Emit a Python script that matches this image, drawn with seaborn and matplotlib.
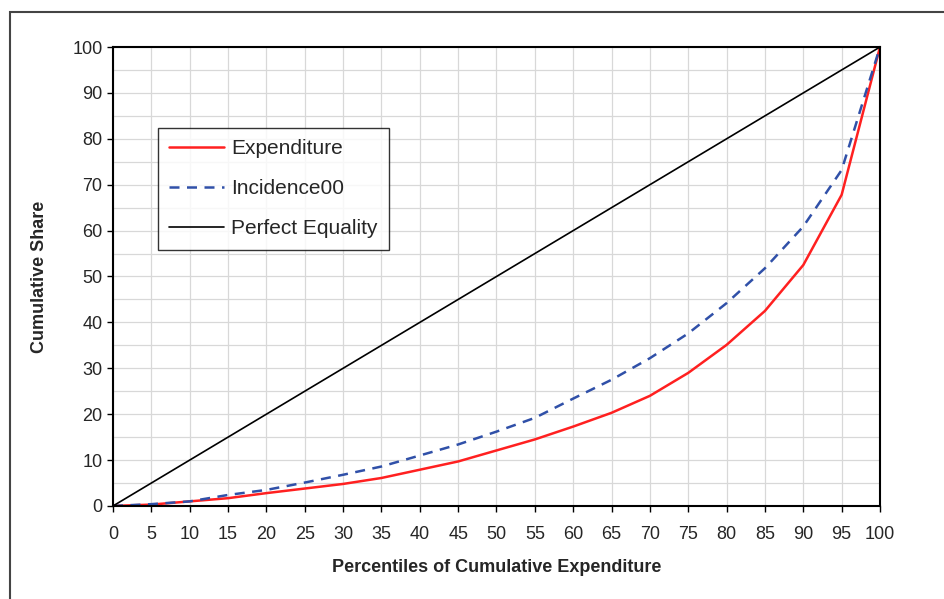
import numpy as np
import pandas as pd
import seaborn as sns
import matplotlib.pyplot as plt
from matplotlib.patches import Rectangle
from matplotlib.ticker import MultipleLocator

pct = [0, 5, 10, 15, 20, 25, 30, 35, 40, 45, 50, 55, 60, 65, 70, 75, 80, 85, 90, 95, 100]
expenditure = [0, 0.3, 1.0, 1.7, 2.8, 3.8, 4.8, 6.1, 7.9, 9.7, 12.1, 14.5, 17.3, 20.3, 24.0, 29.0, 35.1, 42.5, 52.5, 67.8, 100]
incidence00 = [0, 0.4, 1.0, 2.4, 3.5, 5.1, 6.8, 8.6, 11.0, 13.4, 16.2, 19.2, 23.4, 27.5, 32.2, 37.6, 44.2, 51.8, 60.9, 73.2, 100]
equality = [0, 5, 10, 15, 20, 25, 30, 35, 40, 45, 50, 55, 60, 65, 70, 75, 80, 85, 90, 95, 100]

df = pd.DataFrame({'pct': pct, 'Expenditure': expenditure,
                   'Incidence00': incidence00, 'Perfect Equality': equality})

sns.set_style('white')
plt.rcParams['font.family'] = ['Liberation Sans', 'DejaVu Sans']

fig = plt.figure(figsize=(9.44, 5.99), dpi=100)
ax = fig.add_axes([0.1197, 0.1553, 0.8125, 0.7662])

sns.lineplot(data=df, x='pct', y='Expenditure', ax=ax, color='#ff2020', lw=1.8, label='Expenditure')
sns.lineplot(data=df, x='pct', y='Incidence00', ax=ax, color='#3050a8', lw=1.8, label='Incidence00')
ax.lines[-1].set_dashes([4, 3])
sns.lineplot(data=df, x='pct', y='Perfect Equality', ax=ax, color='black', lw=1.2, label='Perfect Equality')

ax.set_xlim(0, 100)
ax.set_ylim(0, 100)
ax.xaxis.set_major_locator(MultipleLocator(5))
ax.yaxis.set_major_locator(MultipleLocator(10))
ax.yaxis.set_minor_locator(MultipleLocator(5))
ax.grid(True, which='both', color='#d8d8d8', lw=0.9)
ax.set_axisbelow(True)
ax.tick_params(axis='both', which='major', direction='out', length=4.5, width=1, color='black',
               labelsize=13, bottom=True, left=True)
ax.tick_params(axis='x', which='major', pad=10)
ax.tick_params(axis='y', which='major', pad=3)
ax.tick_params(axis='y', which='minor', length=0)
for s in ax.spines.values():
    s.set_color('black')
    s.set_linewidth(1.5)

ax.set_xlabel('Percentiles of Cumulative Expenditure', fontsize=13, fontweight='bold')
ax.set_ylabel('Cumulative Share', fontsize=13, fontweight='bold')
ax.xaxis.set_label_coords(0.5, -0.115)
ax.yaxis.set_label_coords(-0.085, 0.5)

leg = ax.legend(loc='upper left', bbox_to_anchor=(0.0587, 0.8235), borderaxespad=0,
                fontsize=15, frameon=True, fancybox=False, edgecolor='black',
                handlelength=2.6, labelspacing=1.0, borderpad=0.55, handletextpad=0.35)
leg.get_frame().set_linewidth(1.0)

fig.patches.append(Rectangle((10 / 944, -0.1), 1.2, 1.08, transform=fig.transFigure,
                             fill=False, edgecolor='#444444', lw=1.5))

fig.savefig('out.png', dpi=100)
